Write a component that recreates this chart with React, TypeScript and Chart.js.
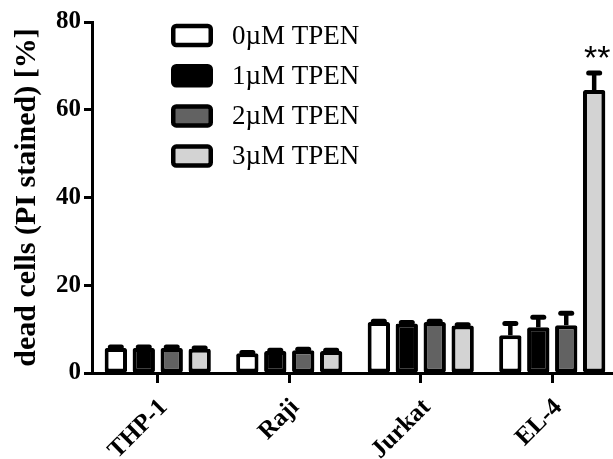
import React, { useEffect, useRef } from "react";
import { Chart, registerables } from "chart.js";

Chart.register(...registerables);

const categories = ["THP-1", "Raji", "Jurkat", "EL-4"];
const seriesLabels = ["0µM TPEN", "1µM TPEN", "2µM TPEN", "3µM TPEN"];
const seriesColors = ["#ffffff", "#000000", "#626262", "#d3d3d3"];

const tpen0 = [5.7, 4.5, 11.6, 8.6];
const tpen1 = [5.7, 5.0, 11.3, 10.4];
const tpen2 = [5.7, 5.2, 11.6, 10.9];
const tpen3 = [5.5, 5.0, 10.8, 64.5];

const err0 = [0.2, 0.2, 0.2, 2.7];
const err1 = [0.2, 0.2, 0.2, 2.3];
const err2 = [0.2, 0.2, 0.2, 2.7];
const err3 = [0.2, 0.2, 0.2, 3.9];

const sig3 = ["", "", "", "**"];

const yTickValues = [0, 20, 40, 60, 80];
const yTitle = "dead cells (PI stained) [%]";

const seriesValues = [tpen0, tpen1, tpen2, tpen3];
const seriesErrors = [err0, err1, err2, err3];
const seriesSig = [null, null, null, sig3];

const errorBarPlugin = {
  id: "errorBars",
  afterDatasetsDraw(chart: any) {
    const ctx = chart.ctx;
    const yScale = chart.scales.y;
    chart.data.datasets.forEach((ds: any, di: number) => {
      const meta = chart.getDatasetMeta(di);
      meta.data.forEach((bar: any, i: number) => {
        const v = ds.data[i];
        const e = ds.errors[i];
        const top = yScale.getPixelForValue(v + e);
        ctx.save();
        ctx.strokeStyle = "#000";
        ctx.lineWidth = 4.5;
        ctx.beginPath();
        ctx.moveTo(bar.x, bar.y);
        ctx.lineTo(bar.x, top);
        ctx.stroke();
        ctx.lineWidth = 5;
        ctx.lineCap = "round";
        ctx.beginPath();
        ctx.moveTo(bar.x - 5.5, top);
        ctx.lineTo(bar.x + 5.5, top);
        ctx.stroke();
        if (ds.sig && ds.sig[i]) {
          ctx.fillStyle = "#000";
          ctx.font = "34px 'Liberation Sans'";
          ctx.textAlign = "center";
          ctx.textBaseline = "alphabetic";
          ctx.fillText(ds.sig[i], bar.x + 3, top - 4);
        }
        ctx.restore();
      });
    });
  },
};

const legendPlugin = {
  id: "boxLegend",
  afterDraw(chart: any) {
    const ctx = chart.ctx;
    const left = chart.chartArea.left + 79;
    const top0 = 35.5;
    chart.data.datasets.forEach((ds: any, i: number) => {
      const cy = top0 + i * 40.2;
      ctx.save();
      ctx.fillStyle = ds.backgroundColor;
      ctx.strokeStyle = "#000";
      ctx.lineWidth = 4.5;
      ctx.beginPath();
      (ctx as any).roundRect(left + 2.25, cy - 9.5, 37.5, 19, 3);
      ctx.fill();
      ctx.stroke();
      ctx.fillStyle = "#000";
      ctx.font = "27px 'Liberation Serif'";
      ctx.textAlign = "left";
      ctx.textBaseline = "middle";
      ctx.fillText(ds.label, left + 61, cy + 1);
      ctx.restore();
    });
  },
};

export default function App() {
  const ref = useRef<HTMLCanvasElement | null>(null);
  useEffect(() => {
    if (!ref.current) return;
    const chart = new Chart(ref.current, {
      type: "bar",
      data: {
        labels: categories,
        datasets: seriesLabels.map((label, i) => ({
          label,
          data: seriesValues[i],
          errors: seriesErrors[i],
          sig: seriesSig[i],
          backgroundColor: seriesColors[i],
          borderColor: "#000000",
          borderWidth: 4,
          borderSkipped: false,
          borderRadius: 2,
          categoryPercentage: 0.85,
          barPercentage: 0.8,
        })) as any,
      },
      options: {
        animation: false,
        responsive: true,
        maintainAspectRatio: false,
        layout: { padding: { top: 22, right: 0, left: 0, bottom: 0 } },
        plugins: {
          legend: { display: false },
          tooltip: { enabled: false },
        },
        scales: {
          x: {
            offset: true,
            afterFit: (s: any) => {
              s.height = 86;
            },
            grid: {
              display: true,
              drawOnChartArea: false,
              offset: false,
              tickLength: 10,
              tickWidth: 3,
              tickColor: "#000",
            },
            border: { display: true, color: "#000", width: 3 },
            ticks: {
              autoSkip: false,
              maxRotation: 45,
              minRotation: 45,
              padding: 10,
              labelOffset: 6,
              color: "#000",
              font: { family: "'Liberation Serif'", size: 25, weight: "bold" },
            },
          },
          y: {
            min: 0,
            max: 80,
            afterFit: (s: any) => {
              s.width = 92;
            },
            afterBuildTicks: (s: any) => {
              s.ticks = yTickValues.map((v) => ({ value: v }));
            },
            grid: {
              display: true,
              drawOnChartArea: false,
              tickLength: 8,
              tickWidth: 3,
              tickColor: "#000",
            },
            border: { display: true, color: "#000", width: 3 },
            ticks: {
              padding: 3,
              color: "#000",
              font: { family: "'Liberation Serif'", size: 25, weight: "bold" },
            },
            title: {
              display: true,
              text: yTitle,
              color: "#000",
              padding: { top: 9, bottom: 0 },
              font: { family: "'Liberation Serif'", size: 30, weight: "bold" },
            },
          },
        },
      },
      plugins: [errorBarPlugin, legendPlugin],
    });
    return () => chart.destroy();
  }, []);

  return (
    <div
      style={{
        position: "fixed",
        left: 0,
        top: 0,
        width: 613,
        height: 459,
        overflow: "hidden",
        background: "#fff",
      }}
    >
      <div style={{ position: "relative", width: 618, height: 459 }}>
        <canvas ref={ref} />
      </div>
    </div>
  );
}
